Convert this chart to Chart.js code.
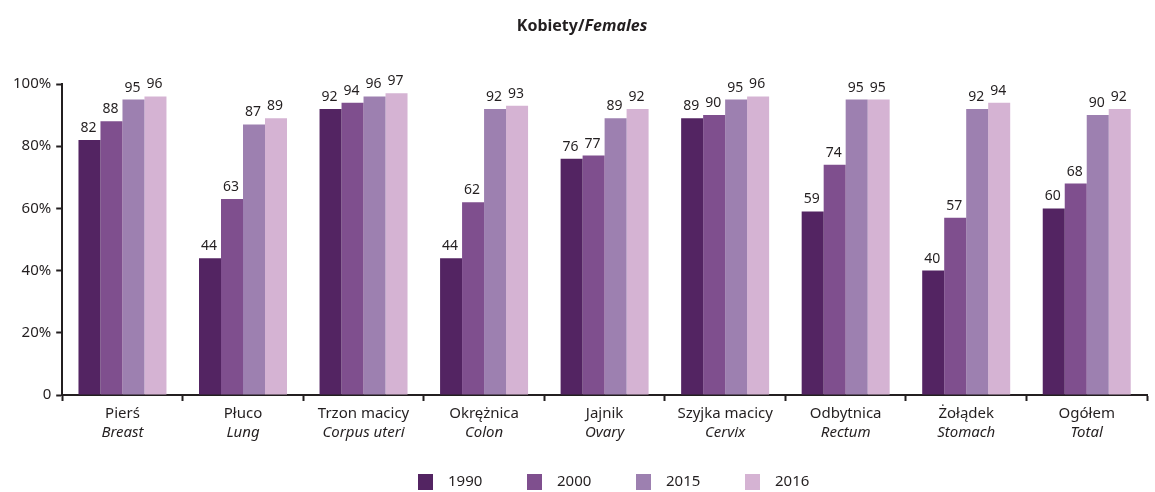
<!DOCTYPE html>
<html>
<head>
<meta charset="utf-8">
<script src="https://cdn.jsdelivr.net/npm/chart.js@4/dist/chart.umd.min.js"></script>
<style>
  html, body { margin: 0; padding: 0; background: #fff; }
  #wrap { width: 1155px; height: 492px; }
</style>
</head>
<body>
<div id="wrap"><canvas id="c"></canvas></div>
<script>
const categoriesPl = ['Pierś', 'Płuco', 'Trzon macicy', 'Okrężnica', 'Jajnik', 'Szyjka macicy', 'Odbytnica', 'Żołądek', 'Ogółem'];
const categoriesEn = ['Breast', 'Lung', 'Corpus uteri', 'Colon', 'Ovary', 'Cervix', 'Rectum', 'Stomach', 'Total'];
const years = ['1990', '2000', '2015', '2016'];
const v1990 = [82, 44, 92, 44, 76, 89, 59, 40, 60];
const v2000 = [88, 63, 94, 62, 77, 90, 74, 57, 68];
const v2015 = [95, 87, 96, 92, 89, 95, 95, 92, 90];
const v2016 = [96, 89, 97, 93, 92, 96, 95, 94, 92];
const yTicks = [0, 20, 40, 60, 80, 100];

const colors = ['#532462', '#7f4f8e', '#9d80b0', '#d5b3d3'];
const FONT = '"Noto Sans", "Open Sans", sans-serif';
const TEXT = '#231f20';

// title with bold + bold italic part
const titlePlugin = {
  id: 'titleMixed',
  afterDraw(chart) {
    const ctx = chart.ctx;
    ctx.save();
    ctx.fillStyle = TEXT;
    ctx.textBaseline = 'middle';
    const a = 'Kobiety/', b = 'Females';
    ctx.font = 'bold 16px ' + FONT;
    const wa = ctx.measureText(a).width;
    ctx.font = 'italic bold 16px ' + FONT;
    const wb = ctx.measureText(b).width;
    const x0 = 582 - (wa + wb) / 2;
    ctx.font = 'bold 16px ' + FONT;
    ctx.textAlign = 'left';
    ctx.fillText(a, x0, 26);
    ctx.font = 'italic bold 16px ' + FONT;
    ctx.fillText(b, x0 + wa, 26);
    ctx.restore();
  }
};

// value labels above bars
const valuePlugin = {
  id: 'values',
  afterDatasetsDraw(chart) {
    const ctx = chart.ctx;
    ctx.save();
    ctx.fillStyle = TEXT;
    ctx.font = '14px ' + FONT;
    ctx.textAlign = 'center';
    ctx.textBaseline = 'bottom';
    chart.data.datasets.forEach((ds, i) => {
      chart.getDatasetMeta(i).data.forEach((bar, j) => {
        ctx.fillText(String(ds.data[j]), bar.x - 1, bar.y - 5);
      });
    });
    ctx.restore();
  }
};

// two-line x labels: Polish regular, English italic
const xLabelPlugin = {
  id: 'xlabels',
  afterDraw(chart) {
    const ctx = chart.ctx;
    const xs = chart.scales.x;
    const base = chart.chartArea.bottom;
    ctx.save();
    ctx.fillStyle = TEXT;
    ctx.textAlign = 'center';
    ctx.textBaseline = 'middle';
    categoriesPl.forEach((pl, i) => {
      const x = xs.getPixelForValue(i);
      ctx.font = '15px ' + FONT;
      ctx.fillText(pl, x, base + 19);
      ctx.font = 'italic 15px ' + FONT;
      ctx.fillText(categoriesEn[i], x, base + 38);
    });
    ctx.restore();
  }
};

// legend row at the bottom
const legendPlugin = {
  id: 'legendRow',
  afterDraw(chart) {
    const ctx = chart.ctx;
    ctx.save();
    ctx.font = '15px ' + FONT;
    ctx.textBaseline = 'middle';
    ctx.textAlign = 'left';
    chart.data.datasets.forEach((ds, i) => {
      const x = 418 + i * 109;
      ctx.fillStyle = ds.backgroundColor;
      ctx.fillRect(x, 474, 15, 16);
      ctx.fillStyle = TEXT;
      ctx.fillText(ds.label, x + 30, 482);
    });
    ctx.restore();
  }
};

const seriesValues = [v1990, v2000, v2015, v2016];

new Chart(document.getElementById('c'), {
  type: 'bar',
  data: {
    labels: categoriesPl,
    datasets: years.map((y, i) => ({
      label: y,
      data: seriesValues[i],
      backgroundColor: colors[i],
      borderWidth: 0,
      categoryPercentage: 0.73,
      barPercentage: 1.0
    }))
  },
  options: {
    responsive: true,
    maintainAspectRatio: false,
    animation: false,
    layout: { padding: { top: 84, right: 8, left: 8, bottom: 43 } },
    plugins: {
      tooltip: { enabled: false },
      title: { display: false },
      legend: { display: false }
    },
    scales: {
      x: {
        grid: {
          display: true,
          drawOnChartArea: false,
          drawTicks: true,
          tickLength: 6,
          tickColor: TEXT,
          tickWidth: 2,
          offset: true
        },
        border: { display: true, color: TEXT, width: 2 },
        ticks: {
          callback: () => ['', ''],
          color: 'rgba(0,0,0,0)',
          font: { family: FONT, size: 15 },
          padding: 6
        }
      },
      y: {
        min: 0,
        max: 100,
        afterBuildTicks(scale) {
          scale.ticks = yTicks.map(v => ({ value: v }));
        },
        grid: {
          display: true,
          drawOnChartArea: false,
          drawTicks: true,
          tickLength: 6,
          tickColor: TEXT,
          tickWidth: 2
        },
        border: { display: true, color: TEXT, width: 2 },
        ticks: {
          color: TEXT,
          font: { family: FONT, size: 15 },
          padding: 5,
          callback: v => (v === 0 ? '0' : v + '%')
        }
      }
    }
  },
  plugins: [titlePlugin, valuePlugin, xLabelPlugin, legendPlugin]
});
</script>
</body>
</html>
